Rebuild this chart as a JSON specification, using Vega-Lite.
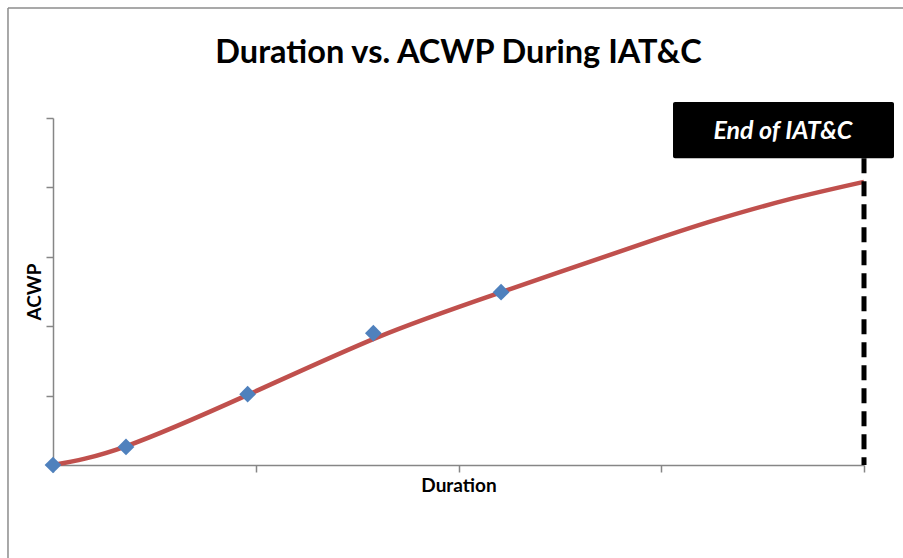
{
  "$schema": "https://vega.github.io/schema/vega-lite/v6.json",
  "autosize": "none",
  "width": 811,
  "height": 347,
  "padding": {"left": 53, "top": 118, "right": 39, "bottom": 93},
  "background": "white",
  "config": {
    "view": {"stroke": null},
    "font": "Lato",
    "axis": {
      "grid": false,
      "labels": false,
      "domainColor": "#868686",
      "domainWidth": 1.5,
      "tickColor": "#868686",
      "tickWidth": 1.5,
      "tickSize": 7,
      "titleFont": "Lato",
      "titleFontWeight": "bold",
      "titleFontSize": 19,
      "titleColor": "#000000"
    }
  },
  "title": {
    "text": "Duration vs. ACWP During IAT&C",
    "font": "Lato",
    "fontSize": 32.5,
    "fontWeight": "bold",
    "color": "#000000",
    "anchor": "middle",
    "baseline": "alphabetic",
    "offset": -88
  },
  "datasets": {
    "points": [
      {"duration": 0, "acwp": 0},
      {"duration": 0.36, "acwp": 0.26},
      {"duration": 0.96, "acwp": 1.02},
      {"duration": 1.58, "acwp": 1.9},
      {"duration": 2.21, "acwp": 2.49}
    ],
    "curve": [
      {"duration": 0, "acwp": 0},
      {"duration": 0.36, "acwp": 0.27},
      {"duration": 0.96, "acwp": 1.01},
      {"duration": 1.6, "acwp": 1.84},
      {"duration": 2.2, "acwp": 2.48},
      {"duration": 2.96, "acwp": 3.24},
      {"duration": 3.29, "acwp": 3.55},
      {"duration": 3.62, "acwp": 3.82},
      {"duration": 4.0, "acwp": 4.08}
    ],
    "label": [{"text": "End of IAT&C"}]
  },
  "layer": [
    {
      "data": {"name": "curve"},
      "mark": {"type": "line", "color": "#C0504D", "strokeWidth": 4.5, "interpolate": "natural"},
      "encoding": {
        "x": {
          "field": "duration", "type": "quantitative",
          "scale": {"domain": [0, 4], "nice": false, "zero": false},
          "axis": {"title": "Duration", "values": [0, 1, 2, 3, 4], "titlePadding": 4}
        },
        "y": {
          "field": "acwp", "type": "quantitative",
          "scale": {"domain": [0, 5], "nice": false, "zero": false},
          "axis": {"title": "ACWP", "values": [0, 1, 2, 3, 4, 5], "titlePadding": 1}
        }
      }
    },
    {
      "data": {"name": "points"},
      "mark": {"type": "point", "shape": "diamond", "filled": true, "color": "#4F81BD", "opacity": 1, "size": 280},
      "encoding": {
        "x": {"field": "duration", "type": "quantitative"},
        "y": {"field": "acwp", "type": "quantitative"}
      }
    },
    {
      "data": {"name": "label"},
      "mark": {"type": "rule", "color": "#000000", "strokeWidth": 5, "strokeDash": [15, 8]},
      "encoding": {
        "x": {"datum": 4},
        "y": {"datum": 4.42},
        "y2": {"datum": 0}
      }
    },
    {
      "data": {"name": "label"},
      "mark": {"type": "rect", "color": "#000000", "cornerRadius": 2},
      "encoding": {
        "x": {"datum": 3.058},
        "x2": {"datum": 4.148},
        "y": {"datum": 5.23},
        "y2": {"datum": 4.42}
      }
    },
    {
      "data": {"name": "label"},
      "mark": {"type": "text", "color": "#ffffff", "font": "Lato", "fontSize": 25, "fontWeight": "bold", "fontStyle": "italic", "align": "center", "baseline": "middle"},
      "encoding": {
        "x": {"datum": 3.6},
        "y": {"datum": 4.81},
        "text": {"field": "text", "type": "nominal"}
      }
    },
    {
      "data": {"name": "label"},
      "mark": {"type": "rule", "color": "#8c8c8c", "strokeWidth": 1.5},
      "encoding": {
        "x": {"datum": -0.222},
        "x2": {"datum": 4.2},
        "y": {"datum": 6.585}
      }
    },
    {
      "data": {"name": "label"},
      "mark": {"type": "rule", "color": "#8c8c8c", "strokeWidth": 1.5},
      "encoding": {
        "x": {"datum": -0.222},
        "y": {"datum": 6.585},
        "y2": {"datum": -1.4}
      }
    }
  ]
}
